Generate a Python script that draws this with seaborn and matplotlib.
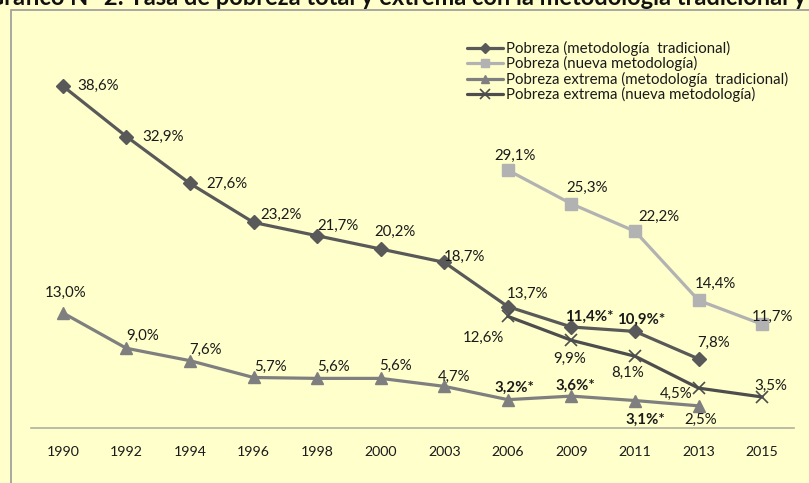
import numpy as np
import pandas as pd
import matplotlib
matplotlib.use("Agg")
import matplotlib.pyplot as plt
import seaborn as sns
from matplotlib.patches import Rectangle

# ── data ─────────────────────────────────────────────────────────────
years = ["1990", "1992", "1994", "1996", "1998", "2000", "2003",
         "2006", "2009", "2011", "2013", "2015"]
pobreza_trad = [38.6, 32.9, 27.6, 23.2, 21.7, 20.2, 18.7, 13.7, 11.4, 10.9, 7.8, np.nan]
pobreza_nueva = [np.nan] * 7 + [29.1, 25.3, 22.2, 14.4, 11.7]
extrema_trad = [13.0, 9.0, 7.6, 5.7, 5.6, 5.6, 4.7, 3.2, 3.6, 3.1, 2.5, np.nan]
extrema_nueva = [np.nan] * 7 + [12.6, 9.9, 8.1, 4.5, 3.5]
# values shown in bold with an asterisk
starred_pt = ["2009", "2011"]
starred_et = ["2006", "2009", "2011"]

df = pd.DataFrame({
    "year": years,
    "pos": np.arange(len(years)),
    "pt": pobreza_trad,
    "pn": pobreza_nueva,
    "et": extrema_trad,
    "en": extrema_nueva,
})

BG = "#FFFFCC"
sns.set_theme(style="white")
plt.rcParams["font.family"] = ["Lato", "DejaVu Sans"]

fig = plt.figure(figsize=(8.09, 4.83), dpi=100, facecolor=BG)
W, H = 809, 483
ax = fig.add_axes([31 / W, 55 / H, 763 / W, 398.7 / H])
ax.set_facecolor(BG)

series = [
    ("pt", "Pobreza (metodología  tradicional)", "#595959", "D", 7, 1),
    ("pn", "Pobreza (nueva metodología)", "#B2B2B2", "s", 8, 1),
    ("et", "Pobreza extrema (metodología  tradicional)", "#7F7F7F", "^", 8, 1),
    ("en", "Pobreza extrema (nueva metodología)", "#4D4D4D", "x", 9, 1.2),
]
for key, label, color, mk, ms, mew in series:
    sub = df.dropna(subset=[key])
    sns.lineplot(data=sub, x="pos", y=key, ax=ax, color=color, linewidth=2.3,
                 marker=mk, markersize=ms, markeredgecolor=color,
                 markeredgewidth=mew, label=label, sort=False)

# label offsets in pixels (dx, dy, ha)
offsets = {
    "pt": [(15, 0, "left"), (16, 0, "left"), (16, 0, "left"), (7, 8, "left"),
           (0, 10, "left"), (14, 17, "center"), (-1, 5, "left"), (-1, 13, "left"),
           (-6, 10, "left"), (-18, 12, "left"), (15, 16, "center"), None],
    "pn": [None] * 7 + [(7, 14, "center"), (16, 16, "center"), (24, 14, "center"),
                        (17, 17, "center"), (10, 7, "center")],
    "et": [(3, 20, "center"), (16, 12, "center"), (16, 11, "center"), (17, 11, "center"),
           (16, 11, "center"), (15, 12, "center"), (10, 9, "center"), (7, 12, "center"),
           (4, 10, "center"), (10, -19, "center"), (2, -14, "center"), None],
    "en": [None] * 7 + [(-24, -22, "center"), (-2, -19, "center"), (-7, -17, "center"),
                        (-22, -6, "center"), (9, 11, "center")],
}
starred = {"pt": starred_pt, "et": starred_et}

for key, *_ in series:
    for i, (yr, v) in enumerate(zip(df["year"], df[key])):
        if np.isnan(v):
            continue
        dx, dy, ha = offsets[key][i]
        txt = f"{v:.1f}%".replace(".", ",")
        bold = yr in starred.get(key, [])
        if bold:
            txt += "*"
        ax.annotate(txt, (i, v), xytext=(dx, dy), textcoords="offset pixels",
                    ha=ha, va="center", fontsize=10.8, color="#1a1a1a",
                    fontweight="bold" if bold else "normal")

ax.set_xlim(-0.5, len(years) - 0.5)
ax.set_ylim(0, 45)
ax.set_xticks(df["pos"])
ax.set_xticklabels(years, fontsize=10.2, color="#1a1a1a")
ax.set_yticks([])
ax.set_xlabel("")
ax.set_ylabel("")
ax.tick_params(axis="x", length=0, pad=13)
for s in ["top", "right", "left"]:
    ax.spines[s].set_visible(False)
ax.spines["bottom"].set_color("#B0B0A0")
ax.spines["bottom"].set_linewidth(1.2)

leg = ax.legend(loc="upper left", bbox_to_anchor=((461 - 31) / 763, (431 - 38) / 398.7),
                frameon=False, fontsize=10.8, handlelength=2.4, handletextpad=0.2,
                labelspacing=0.02, borderaxespad=0, markerscale=0.8)
for t in leg.get_texts():
    t.set_color("#1a1a1a")

# chart area frame (right/bottom edges fall outside the image)
fig.add_artist(Rectangle((11 / W, -0.1), 1.2, 1 - 10 / H + 0.1,
                         transform=fig.transFigure, fill=False,
                         edgecolor="#9A9A9A", linewidth=1.2))

fig.text(806 / W, 1 - 5 / H,
         "Gráfico N° 2: Tasa de pobreza total y extrema con la metodología tradicional y",
         ha="right", va="baseline", fontsize=17, fontweight="bold", color="#111111")

fig.savefig("out.png", dpi=100, facecolor=BG)
